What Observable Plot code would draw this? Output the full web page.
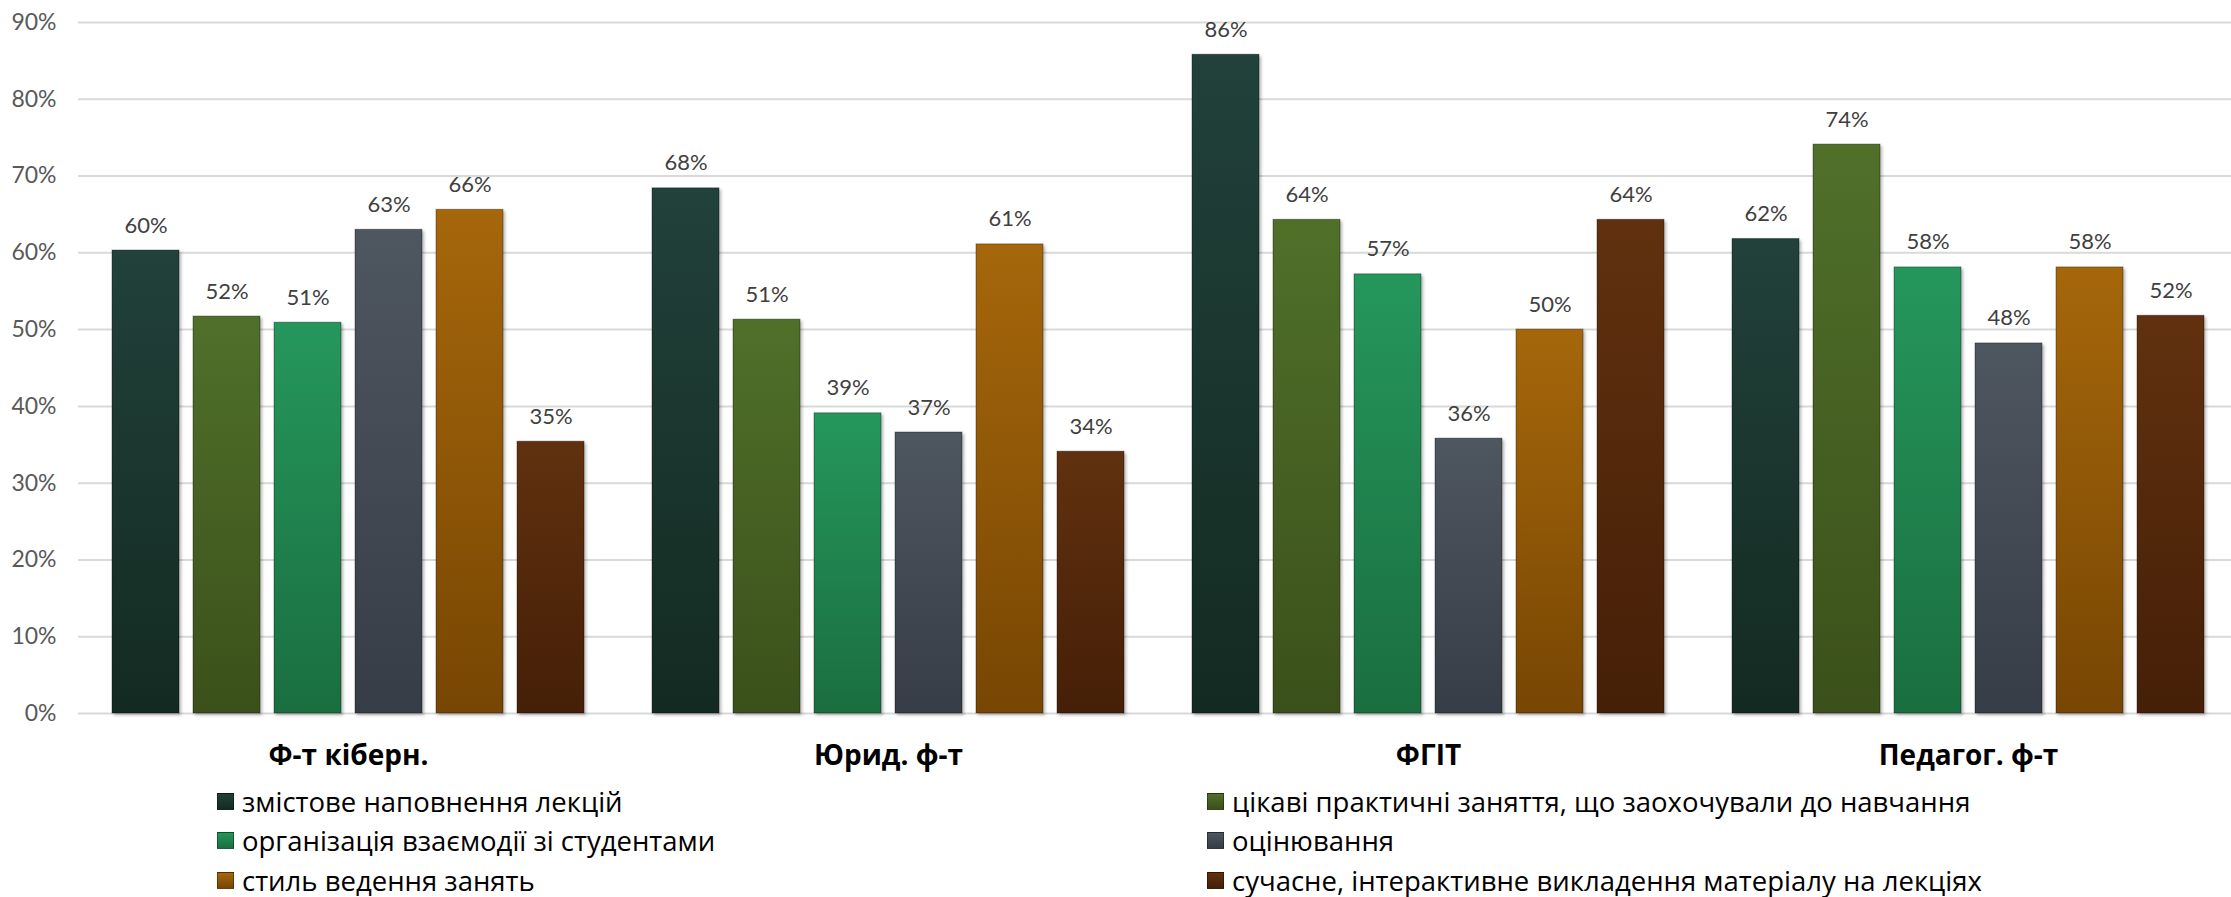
<!DOCTYPE html>
<html>
<head>
<meta charset="utf-8">
<script src="https://cdn.jsdelivr.net/npm/d3@7"></script>
<script src="https://cdn.jsdelivr.net/npm/@observablehq/plot@0.6"></script>
<style>
  html, body { margin: 0; padding: 0; background: #fff; overflow: hidden; }
  #wrap { position: relative; width: 2238px; height: 897px; }
  #chart svg { display: block; }
  .bars rect { filter: drop-shadow(2px 2px 1.5px rgba(0,0,0,0.28)); }
  .legend-item { position: absolute; display: flex; align-items: center; height: 40px;
    font-family: "Open Sans", "Noto Sans", sans-serif; font-size: 27.5px; color: #000; white-space: nowrap; }
  .sw { width: 17px; height: 17px; margin-right: 8px; box-sizing: border-box; }
</style>
</head>
<body>
<div id="wrap">
  <div id="chart"></div>
  <div id="legend"></div>
</div>
<script>
// ---- data ----
const faculties = ["Ф-т кіберн.", "Юрид. ф-т", "ФГІТ", "Педагог. ф-т"];
const criteria = [
  "змістове наповнення лекцій",
  "цікаві практичні заняття, що заохочували до навчання",
  "організація взаємодії зі студентами",
  "оцінювання",
  "стиль ведення занять",
  "сучасне, інтерактивне викладення матеріалу на лекціях"
];
// values per criterion, in faculty order
const zmist       = [0.603, 0.684, 0.858, 0.618];
const tsikavi     = [0.517, 0.513, 0.643, 0.741];
const orhanizatsia= [0.509, 0.391, 0.572, 0.581];
const otsiniuvannia=[0.630, 0.366, 0.358, 0.482];
const styl        = [0.656, 0.611, 0.500, 0.581];
const suchasne    = [0.354, 0.341, 0.643, 0.518];
const seriesValues = [zmist, tsikavi, orhanizatsia, otsiniuvannia, styl, suchasne];
const yTicks = [0, 0.1, 0.2, 0.3, 0.4, 0.5, 0.6, 0.7, 0.8, 0.9];

// colours (top, bottom of gradient)
const colorTop    = ["#21413a", "#50702a", "#25975c", "#4e5660", "#a6670b", "#61310f"];
const colorBottom = ["#132a22", "#3b501a", "#1a6e40", "#373d46", "#774603", "#451f07"];

const rows = [];
criteria.forEach((c, i) => faculties.forEach((f, j) => rows.push({faculty: f, criterion: c, value: seriesValues[i][j]})));

const pct = d3.format(".0%");
const gradIds = criteria.map((_, i) => `grad${i}`);

const chart = Plot.plot({
  width: 2238,
  height: 780,
  marginTop: 22,
  marginBottom: 67,
  marginLeft: 77,
  marginRight: 0,
  fx: {domain: faculties, padding: 0, label: null, axis: null},
  x: {domain: criteria, paddingInner: 0.1707, paddingOuter: 0.38, axis: null},
  y: {domain: [0, 0.9], label: null, axis: null},
  color: {domain: criteria, range: gradIds.map(id => `url(#${id})`)},
  marks: [
    Plot.gridY(yTicks, {stroke: "#d9d9d9", strokeWidth: 2, strokeOpacity: 1}),
    Plot.axisY(yTicks, {tickSize: 0, tickPadding: 22, tickFormat: pct, fontSize: 23,
      fill: "#595959", fontFamily: "Lato, sans-serif", label: null}),
    Plot.axisFx({anchor: "bottom", tickSize: 0, tickPadding: 32, fontSize: 28, fontWeight: "bold",
      fill: "#000", fontFamily: "'Open Sans', 'Noto Sans', sans-serif", label: null}),
    Plot.barY(rows, {fx: "faculty", x: "criterion", y: "value", fill: "criterion",
      stroke: "rgba(0,0,0,0.35)", strokeWidth: 1, className: "bars"}),
    Plot.text(rows, {fx: "faculty", x: "criterion", y: "value", text: d => pct(d.value),
      dy: -25, fontSize: 22, fill: "#404040", fontFamily: "Lato, sans-serif"})
  ]
});

// gradient defs
const svg = d3.select(chart);
const defs = svg.insert("defs", ":first-child");
criteria.forEach((_, i) => {
  const g = defs.append("linearGradient").attr("id", gradIds[i])
    .attr("x1", 0).attr("y1", 0).attr("x2", 0).attr("y2", 1);
  g.append("stop").attr("offset", "0%").attr("stop-color", colorTop[i]);
  g.append("stop").attr("offset", "100%").attr("stop-color", colorBottom[i]);
});
document.getElementById("chart").appendChild(chart);

// legend
const legend = document.getElementById("legend");
const legendPos = [
  {left: 217, top: 781}, {left: 1207, top: 781},
  {left: 217, top: 820}, {left: 1207, top: 820},
  {left: 217, top: 860}, {left: 1207, top: 860}
];
criteria.forEach((c, i) => {
  const item = document.createElement("div");
  item.className = "legend-item";
  item.style.left = legendPos[i].left + "px";
  item.style.top = legendPos[i].top + "px";
  const sw = document.createElement("div");
  sw.className = "sw";
  sw.style.background = `linear-gradient(${colorTop[i]}, ${colorBottom[i]})`;
  sw.style.border = "1px solid rgba(0,0,0,0.35)";
  const t = document.createElement("span");
  t.textContent = c;
  item.appendChild(sw);
  item.appendChild(t);
  legend.appendChild(item);
});
</script>
</body>
</html>
